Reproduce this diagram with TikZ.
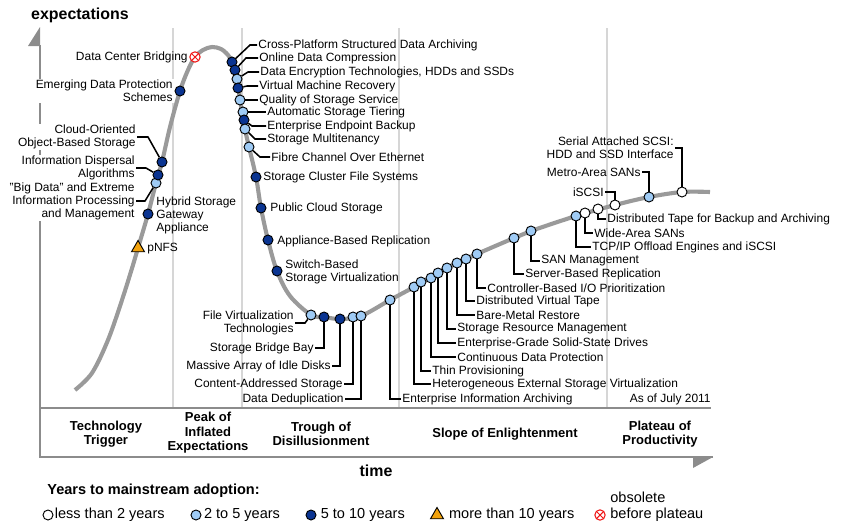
\documentclass[tikz,border=0pt]{standalone}
\usepackage{fontspec}
\setmainfont{Liberation Sans}
\usetikzlibrary{arrows.meta,positioning,shapes.geometric,calc}
\definecolor{curvegray}{HTML}{9A9A9A}
\definecolor{axisgray}{HTML}{8C8C8C}
\definecolor{phasegray}{HTML}{D6D6D6}
\definecolor{navy}{HTML}{0A3491}
\definecolor{skyblue}{HTML}{9FCBF5}
\definecolor{amber}{HTML}{F2A20C}
\definecolor{alarm}{HTML}{F01414}

\begin{document}
\begin{tikzpicture}[x=0.03cm, y=-0.03cm,
  lbl/.style={inner sep=1pt, font=\fontsize{10.2}{11.1}\selectfont},
  blank/.style={lbl, fill=white},
  tech/.style={circle, draw=black, line width=0.8pt, minimum size=0.3cm, inner sep=0pt},
  soon/.style={tech, fill=white},
  near/.style={tech, fill=skyblue},
  later/.style={tech, fill=navy},
  distant/.style={regular polygon, regular polygon sides=3, draw=black, line width=0.8pt, fill=amber, minimum size=0.45cm, inner sep=0pt},
  obsolete/.style={circle, draw=alarm, line width=0.9pt, fill=white, minimum size=0.31cm, inner sep=0pt,
    path picture={\draw[alarm, line width=0.9pt] (path picture bounding box.north west) -- (path picture bounding box.south east)
      (path picture bounding box.north east) -- (path picture bounding box.south west);}},
  lead/.style={line width=1.3pt},
  axis/.style={axisgray, line width=1.7pt},
  sep/.style={phasegray, line width=1.6pt},
  phase/.style={font=\bfseries\fontsize{11.1}{12.4}\selectfont, align=center},
  key/.style={inner sep=1pt, font=\fontsize{12.4}{13.6}\selectfont},
]
\useasboundingbox (0,0) rectangle (843,530);

% Phase separators and axes
\foreach \x in {173,242,399,607}
  \draw[sep] (\x,28) -- (\x,408);
\draw[axis] (40,45) -- (40,457) -- (713,457);
\draw[axis] (40,408) -- (711,408);
\fill[axisgray] (40,27) -- (40,46) -- (28,46) -- cycle;
\fill[axisgray] (713,457) -- (693,457) -- (693,468) -- cycle;
\node[font=\bfseries\fontsize{13.6}{15}\selectfont, anchor=west, inner sep=0pt] (yaxis) at (31,15) {expectations};
\node[font=\bfseries\fontsize{13.6}{15}\selectfont, inner sep=0pt] (xaxis) at (376,471) {time};

% The hype curve
\draw[curvegray, line width=3.5pt] plot[smooth, tension=0.55] coordinates {
  (75,390) (92,373) (108,340) (122,300) (133,265) (138,248) (148,214) (156,183) (162,162)
  (170,127) (180,91) (188,70) (195,57) (203,50) (212,47) (221,49) (228,55) (232,62)
  (237,79) (240,100) (245,129) (249,147) (256,177) (261,208) (268,240) (277,271)
  (290,296) (311,315) (324,317) (340,319) (361,316) (390,300) (414,287) (447,268)
  (477,254) (514,238) (531,231) (576,216) (615,205) (649,197) (682,192) (710,192)};

% Rising edge
\node[distant] (d_pnfs) at (138,248) {};
\node[lbl, anchor=west] (l_pnfs) at (146,249) {pNFS};
\node[later] (d_hybrid) at (148,214) {};
\node[lbl, anchor=west, align=left] (l_hybrid) at (155,215) {Hybrid Storage\\Gateway\\Appliance};
\node[near] (d_bigdata) at (156,183) {};
\node[blank, anchor=east, align=right] (l_bigdata) at (136,201) {"Big Data" and Extreme\\Information Processing\\and Management};
\draw[lead] (d_bigdata) -- ($(l_bigdata.east)+(9,0)$) -- (l_bigdata.east);
\node[later] (d_dispersal) at (158,175) {};
\node[blank, anchor=east, align=right] (l_dispersal) at (136,168) {Information Dispersal\\Algorithms};
\draw[lead] (d_dispersal) -- ($(l_dispersal.east)+(10,0)$) -- (l_dispersal.east);
\node[later] (d_cloud) at (162,162) {};
\node[blank, anchor=east, align=right] (l_cloud) at (137,137) {Cloud-Oriented\\Object-Based Storage};
\draw[lead] (d_cloud) -- ($(l_cloud.east)+(11,0)$) -- (l_cloud.east);
\node[later] (d_emerging) at (180,91) {};
\node[blank, anchor=east, align=right] (l_emerging) at (174,91) {Emerging Data Protection\\Schemes};
\node[obsolete] (d_dcb) at (195,57) {};
\node[lbl, anchor=east] (l_dcb) at (189,57) {Data Center Bridging};

% Falling edge
\node[later] (d_xplat) at (232,62) {};
\node[lbl, anchor=west] (l_xplat) at (257,45) {Cross-Platform Structured Data Archiving};
\draw[lead] (d_xplat) -- ($(l_xplat.west)+(-7,0)$) -- (l_xplat.west);
\node[later] (d_compress) at (235,70) {};
\node[lbl, anchor=west] (l_compress) at (258,58) {Online Data Compression};
\draw[lead] (d_compress) -- ($(l_compress.west)+(-12,0)$) -- (l_compress.west);
\node[near] (d_encrypt) at (237,79) {};
\node[lbl, anchor=west] (l_encrypt) at (259,72) {Data Encryption Technologies, HDDs and SSDs};
\draw[lead] (d_encrypt) -- ($(l_encrypt.west)+(-11,0)$) -- (l_encrypt.west);
\node[later] (d_vmr) at (238,88) {};
\node[lbl, anchor=west] (l_vmr) at (258,86) {Virtual Machine Recovery};
\draw[lead] (d_vmr) -- ($(l_vmr.west)+(-11,0)$) -- (l_vmr.west);
\node[near] (d_qos) at (240,100) {};
\node[lbl, anchor=west] (l_qos) at (258,100) {Quality of Storage Service};
\draw[lead] (d_qos) -- (l_qos.west);
\node[near] (d_tier) at (243,112) {};
\node[lbl, anchor=west] (l_tier) at (266,112) {Automatic Storage Tiering};
\draw[lead] (d_tier) -- (l_tier.west);
\node[later] (d_endpoint) at (244,120) {};
\node[lbl, anchor=west] (l_endpoint) at (266,126) {Enterprise Endpoint Backup};
\draw[lead] (d_endpoint) -- ($(l_endpoint.west)+(-14,0)$) -- (l_endpoint.west);
\node[near] (d_multi) at (245,129) {};
\node[lbl, anchor=west] (l_multi) at (266,139) {Storage Multitenancy};
\draw[lead] (d_multi) -- ($(l_multi.west)+(-11,0)$) -- (l_multi.west);
\node[near] (d_fcoe) at (249,147) {};
\node[lbl, anchor=west] (l_fcoe) at (270,157) {Fibre Channel Over Ethernet};
\draw[lead] (d_fcoe) -- ($(l_fcoe.west)+(-10,0)$) -- (l_fcoe.west);
\node[later] (d_cluster) at (256,177) {};
\node[lbl, anchor=west] (l_cluster) at (262,177) {Storage Cluster File Systems};
\node[later] (d_public) at (261,208) {};
\node[lbl, anchor=west] (l_public) at (269,208) {Public Cloud Storage};
\node[later] (d_appliance) at (268,240) {};
\node[lbl, anchor=west] (l_appliance) at (276,241) {Appliance-Based Replication};
\node[later] (d_switch) at (277,271) {};
\node[lbl, anchor=west, align=left] (l_switch) at (284,272) {Switch-Based\\Storage Virtualization};

% Trough
\node[near] (d_filevirt) at (311,315) {};
\node[lbl, anchor=east, align=right] (l_filevirt) at (295,323) {File Virtualization\\Technologies};
\draw[lead] (d_filevirt) -- ($(l_filevirt.east)+(10,0)$) -- (l_filevirt.east);
\node[later] (d_sbb) at (324,317) {};
\node[lbl, anchor=east] (l_sbb) at (315,348) {Storage Bridge Bay};
\draw[lead] (d_sbb) |- (l_sbb.east);
\node[later] (d_maid) at (340,319) {};
\node[lbl, anchor=east] (l_maid) at (332,366) {Massive Array of Idle Disks};
\draw[lead] (d_maid) |- (l_maid.east);
\node[near] (d_cas) at (353,317) {};
\node[lbl, anchor=east] (l_cas) at (344,384) {Content-Addressed Storage};
\draw[lead] (d_cas) |- (l_cas.east);
\node[near] (d_dedup) at (361,316) {};
\node[lbl, anchor=east] (l_dedup) at (345,399) {Data Deduplication};
\draw[lead] (d_dedup) |- (l_dedup.east);
\node[near] (d_eia) at (390,300) {};
\node[lbl, anchor=west] (l_eia) at (401,399) {Enterprise Information Archiving};
\draw[lead] (d_eia) |- (l_eia.west);

% Slope
\node[near] (d_hetero) at (414,287) {};
\node[lbl, anchor=west] (l_hetero) at (431,384) {Heterogeneous External Storage Virtualization};
\draw[lead] (d_hetero) |- (l_hetero.west);
\node[near] (d_thin) at (421,282) {};
\node[lbl, anchor=west] (l_thin) at (431,371) {Thin Provisioning};
\draw[lead] (d_thin) |- (l_thin.west);
\node[near] (d_cdp) at (431,278) {};
\node[lbl, anchor=west] (l_cdp) at (456,357) {Continuous Data Protection};
\draw[lead] (d_cdp) |- (l_cdp.west);
\node[near] (d_ssd) at (438,273) {};
\node[lbl, anchor=west] (l_ssd) at (456,343) {Enterprise-Grade Solid-State Drives};
\draw[lead] (d_ssd) |- (l_ssd.west);
\node[near] (d_srm) at (447,268) {};
\node[lbl, anchor=west] (l_srm) at (456,329) {Storage Resource Management};
\draw[lead] (d_srm) |- (l_srm.west);
\node[near] (d_bmr) at (457,263) {};
\node[lbl, anchor=west] (l_bmr) at (475,315) {Bare-Metal Restore};
\draw[lead] (d_bmr) |- (l_bmr.west);
\node[near] (d_dvt) at (466,259) {};
\node[lbl, anchor=west] (l_dvt) at (475,301) {Distributed Virtual Tape};
\draw[lead] (d_dvt) |- (l_dvt.west);
\node[near] (d_ctrl) at (477,254) {};
\node[lbl, anchor=west] (l_ctrl) at (486,288) {Controller-Based I/O Prioritization};
\draw[lead] (d_ctrl) |- (l_ctrl.west);
\node[near] (d_sbr) at (514,238) {};
\node[lbl, anchor=west] (l_sbr) at (524,274) {Server-Based Replication};
\draw[lead] (d_sbr) |- (l_sbr.west);
\node[near] (d_sanm) at (531,231) {};
\node[lbl, anchor=west] (l_sanm) at (540,261) {SAN Management};
\draw[lead] (d_sanm) |- (l_sanm.west);
\node[near] (d_toe) at (576,216) {};
\node[lbl, anchor=west] (l_toe) at (591,247) {TCP/IP Offload Engines and iSCSI};
\draw[lead] (d_toe) |- (l_toe.west);
\node[soon] (d_wan) at (585,213) {};
\node[lbl, anchor=west] (l_wan) at (593,233) {Wide-Area SANs};
\draw[lead] (d_wan) |- (l_wan.west);
\node[soon] (d_tape) at (598,209) {};
\node[lbl, anchor=west] (l_tape) at (606,219) {Distributed Tape for Backup and Archiving};
\draw[lead] (d_tape) |- (l_tape.west);

% Plateau
\node[soon] (d_iscsi) at (615,205) {};
\node[lbl, anchor=east] (l_iscsi) at (605,192) {iSCSI};
\draw[lead] (d_iscsi) |- (l_iscsi.east);
\node[near] (d_metro) at (649,197) {};
\node[lbl, anchor=east] (l_metro) at (642,172) {Metro-Area SANs};
\draw[lead] (d_metro) |- (l_metro.east);
\node[soon] (d_sas) at (682,192) {};
\node[lbl, anchor=east, align=right] (l_sas) at (675,148) {Serial Attached SCSI:\\HDD and SSD Interface};
\draw[lead] (d_sas) |- (l_sas.east);
\node[lbl, anchor=east] (asof) at (712,399) {As of July 2011};

% Phase names
\node[phase] (p_trigger) at (106,434) {Technology\\Trigger};
\node[phase] (p_peak) at (208,433) {Peak of\\Inflated\\Expectations};
\node[phase] (p_trough) at (321,434) {Trough of\\Disillusionment};
\node[phase] (p_slope) at (505,434) {Slope of Enlightenment};
\node[phase] (p_plateau) at (660,434) {Plateau of\\Productivity};

% Legend
\node[key, font=\bfseries\fontsize{12.4}{13.6}\selectfont, anchor=west] (k_title) at (46,491) {Years to mainstream adoption:};
\node[soon] (k1) at (48,515) {};
\node[key, right=0pt of k1] (k1t) {less than 2 years};
\node[near] (k2) at (196,515) {};
\node[key, right=1pt of k2] (k2t) {2 to 5 years};
\node[later] (k3) at (311,515) {};
\node[key, right=2.5pt of k3] (k3t) {5 to 10 years};
\node[distant] (k4) at (437,515) {};
\node[key, right=5pt of k4] (k4t) {more than 10 years};
\node[obsolete] (k5) at (600,515) {};
\node[key, anchor=west, align=left] (k5t) at (609,507) {obsolete\\before plateau};

\end{tikzpicture}
\end{document}
